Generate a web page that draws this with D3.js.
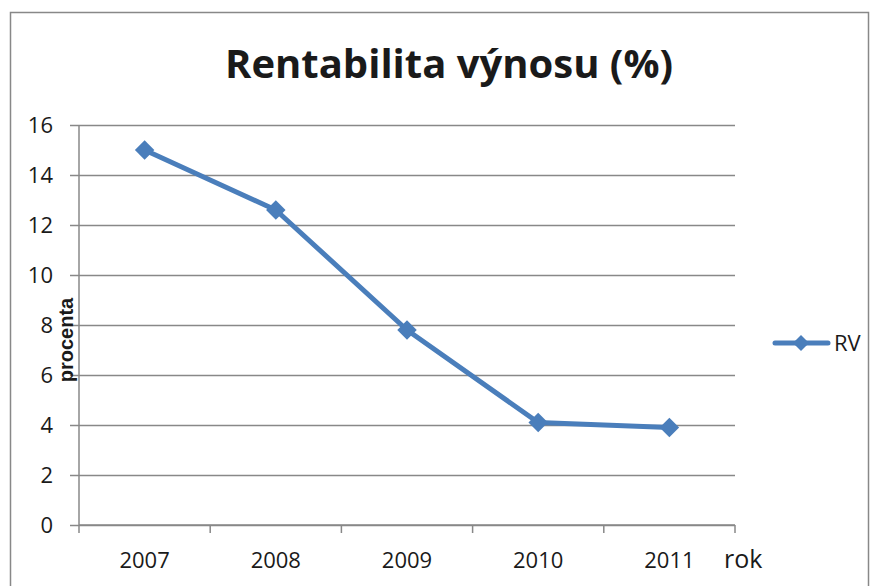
<!DOCTYPE html>
<html>
<head>
<meta charset="utf-8">
<script src="https://cdn.jsdelivr.net/npm/d3@7"></script>
<style>
  body { margin: 0; background: #fff; }
  text { font-family: "Open Sans", "Liberation Sans", sans-serif; fill: #1a1a1a; }
</style>
</head>
<body>
<div id="content"></div>
<script>
// data
var years = ["2007", "2008", "2009", "2010", "2011"];
var rv = [15.0, 12.6, 7.8, 4.1, 3.9];
var yTicks = [0, 2, 4, 6, 8, 10, 12, 14, 16];
var seriesName = "RV";
var title = "Rentabilita výnosu (%)";

var W = 875, H = 586;
var lineColor = "#4a7ebb", gridColor = "#888888";

var svg = d3.select("#content").append("svg").attr("width", W).attr("height", H);

// outer frame
svg.append("rect").attr("x", 10.5).attr("y", 12.5).attr("width", 858).attr("height", 600)
  .attr("fill", "none").attr("stroke", gridColor).attr("stroke-width", 1.5);

var plotL = 79, plotR = 735, plotT = 125, plotB = 525;

var x = d3.scaleBand().domain(years).range([plotL, plotR]);
var y = d3.scaleLinear().domain([0, 16]).range([plotB, plotT]);

// gridlines + y ticks
var yAxis = d3.axisLeft(y).tickValues(yTicks).tickSize(-(plotR - plotL)).tickPadding(26);
var gy = svg.append("g").attr("transform", "translate(" + plotL + ",0)").call(yAxis);
gy.select(".domain").remove();
gy.selectAll(".tick line").attr("x1", -9).attr("stroke", gridColor).attr("stroke-width", 1.5);
gy.selectAll(".tick text").style("font-size", "22px").style("font-family", null).attr("fill", "#1a1a1a");

// y axis line
svg.append("line").attr("x1", plotL).attr("x2", plotL).attr("y1", plotT).attr("y2", plotB)
  .attr("stroke", gridColor).attr("stroke-width", 1.5);

// x axis with ticks on band boundaries
svg.append("line").attr("x1", plotL).attr("x2", plotR).attr("y1", plotB).attr("y2", plotB)
  .attr("stroke", gridColor).attr("stroke-width", 1.5);
var bounds = years.map(function(d) { return x(d); }).concat([plotR]);
svg.selectAll(".xtick").data(bounds).enter().append("line")
  .attr("x1", function(d) { return d; }).attr("x2", function(d) { return d; })
  .attr("y1", plotB).attr("y2", plotB + 8)
  .attr("stroke", gridColor).attr("stroke-width", 1.5);
svg.selectAll(".xlabel").data(years).enter().append("text")
  .attr("x", function(d) { return x(d) + x.bandwidth() / 2; })
  .attr("y", 568)
  .attr("text-anchor", "middle")
  .style("font-size", "22px")
  .text(function(d) { return d; });

// axis titles
svg.append("text").attr("x", 724).attr("y", 568).style("font-size", "25px").text("rok");
svg.append("text")
  .attr("transform", "translate(73,340) rotate(-90)")
  .attr("text-anchor", "middle")
  .style("font-size", "20px").style("font-weight", "bold")
  .style("font-family", "'Liberation Sans', Arial, sans-serif")
  .text("procenta");

// title
svg.append("text").attr("x", 449).attr("y", 78).attr("text-anchor", "middle")
  .style("font-size", "40px").style("font-weight", "bold")
  .text(title);

// series line
var line = d3.line()
  .x(function(d, i) { return x(years[i]) + x.bandwidth() / 2; })
  .y(function(d) { return y(d); });
svg.append("path").datum(rv).attr("d", line)
  .attr("fill", "none").attr("stroke", lineColor).attr("stroke-width", 5)
  .attr("stroke-linejoin", "round");

var diamond = d3.symbol().type(d3.symbolSquare).size(190);
svg.selectAll(".pt").data(rv).enter().append("path")
  .attr("d", diamond)
  .attr("transform", function(d, i) {
    return "translate(" + (x(years[i]) + x.bandwidth() / 2) + "," + y(d) + ") rotate(45)";
  })
  .attr("fill", lineColor);

// legend
svg.append("line").attr("x1", 775).attr("x2", 828).attr("y1", 343).attr("y2", 343)
  .attr("stroke", lineColor).attr("stroke-width", 5).attr("stroke-linecap", "round");
svg.append("path").attr("d", d3.symbol().type(d3.symbolSquare).size(130))
  .attr("transform", "translate(801,343) rotate(45)").attr("fill", lineColor);
svg.append("text").attr("x", 834).attr("y", 351).style("font-size", "22px").text(seriesName);
</script>
</body>
</html>
